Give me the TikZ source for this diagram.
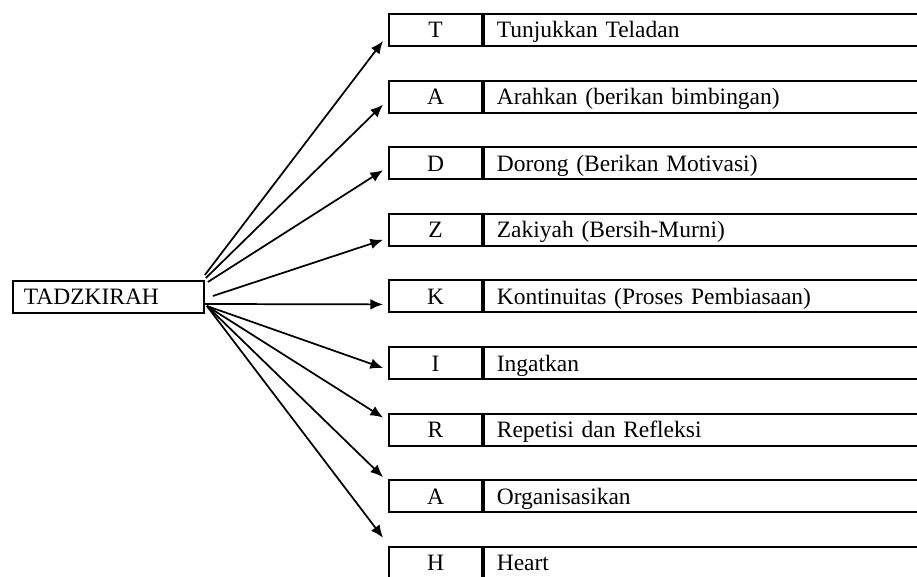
\documentclass[tikz,border=0pt]{standalone}
\usepackage{fontspec}
\setmainfont{Liberation Serif}
\usetikzlibrary{arrows.meta}
\tikzset{
	cellbox/.style={draw, line width=1.4pt, minimum height=24pt, inner sep=0pt, text height=16pt, text depth=4pt, font=\fontsize{17.6}{20}\selectfont},
	letterbox/.style={cellbox, minimum width=69.75pt},
	wordbox/.style={cellbox, anchor=west, text width=330pt, inner xsep=9.75pt, align=left},
	fanarrow/.style={-{Latex[length=9.5pt,width=8pt]}, line width=1.3pt}
}

\begin{document}
\begin{tikzpicture}[x=0.75pt,y=-0.75pt]
				\useasboundingbox (0,0) rectangle (917,577);
				\clip (0,0) rectangle (917,577);
				\node[cellbox, anchor=west, text width=126.75pt, inner xsep=8.25pt, align=left] (tad) at (12,297) {TADZKIRAH};
				\foreach \i/\ltr/\txt/\sx/\sy/\ey in {
					0/T/{Tunjukkan Teladan}/0/-22/11,
					1/A/{Arahkan (berikan bimbingan)}/1/-19/8,
					2/D/{Dorong (Berikan Motivasi)}/3/-15/7,
					3/Z/{Zakiyah (Bersih-Murni)}/8/-1/10,
					4/K/{Kontinuitas (Proses Pembiasaan)}/0/7/8,
					5/I/{Ingatkan}/2/9/5,
					6/R/{Repetisi dan Refleksi}/2/9/-12,
					7/A/{Organisasikan}/2/9/-19,
					8/H/{Heart}/2/9/-25}{
					\node[letterbox] (l\i) at (435.5,{30+66.6*\i}) {\ltr};
					\node[wordbox] (w\i) at (l\i.east) {\txt};
					\draw[fanarrow] ([shift={(\sx,\sy)}]tad.east) -- ([shift={(-5,\ey)}]l\i.west);
				}
\end{tikzpicture}
\end{document}
